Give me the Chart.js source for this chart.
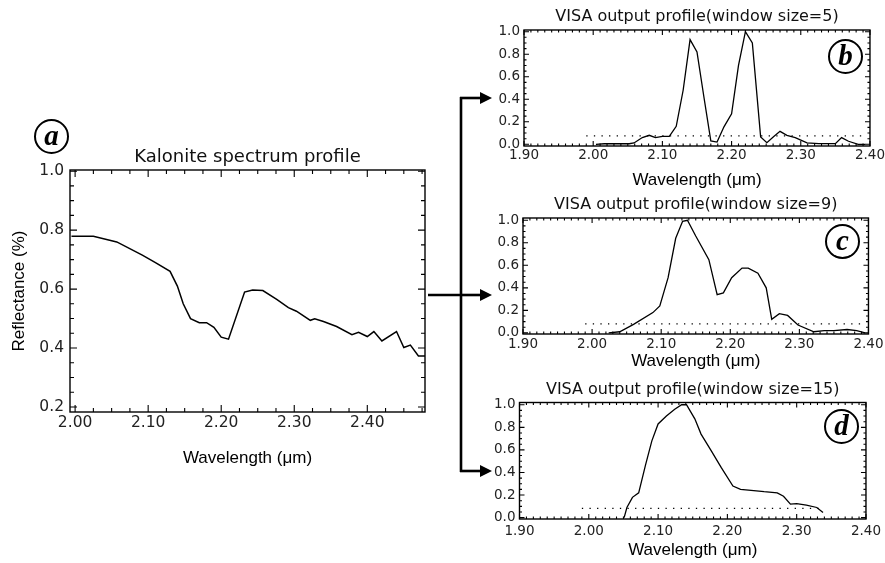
<!DOCTYPE html>
<html>
<head>
<meta charset="utf-8">
<script src="https://cdn.jsdelivr.net/npm/chart.js@4.4.0/dist/chart.umd.min.js"></script>
<style>
  body { margin: 0; background: #fff; width: 885px; height: 563px; position: relative; overflow: hidden; }
  canvas { position: absolute; }
  .tag { position: absolute; width: 31px; height: 31px; border: 2px solid #000; border-radius: 50%;
         font: italic bold 29px "Liberation Serif", serif; text-align: center; line-height: 29px; background: #fff; }
  svg { position: absolute; left: 0; top: 0; }
</style>
</head>
<body>
<canvas id="chartA"></canvas>
<canvas id="chartB"></canvas>
<canvas id="chartC"></canvas>
<canvas id="chartD"></canvas>

<div class="tag" style="left:34px;top:119px">a</div>
<div class="tag" style="left:828px;top:39px">b</div>
<div class="tag" style="left:825px;top:224px">c</div>
<div class="tag" style="left:824px;top:409px">d</div>

<svg width="885" height="563">
  <g stroke="#000" stroke-width="2.6" fill="none">
    <line x1="428" y1="295" x2="461" y2="295"/>
    <line x1="461" y1="97" x2="461" y2="472"/>
    <line x1="460" y1="98" x2="481" y2="98"/>
    <line x1="461" y1="295" x2="481" y2="295"/>
    <line x1="460" y1="471" x2="481" y2="471"/>
  </g>
  <g fill="#000">
    <polygon points="480,92 492,98 480,104"/>
    <polygon points="480,289 492,295 480,301"/>
    <polygon points="480,465 492,471 480,477"/>
  </g>
</svg>

<script>
// (a) Kalonite spectrum profile
const wavelengthA = [1.995, 2.025, 2.057, 2.092, 2.110, 2.130, 2.140, 2.148, 2.158, 2.170, 2.180, 2.190, 2.200, 2.210,
  2.232, 2.243, 2.257, 2.276, 2.292, 2.303, 2.322, 2.328, 2.340, 2.358, 2.379, 2.388, 2.400, 2.409, 2.420, 2.440,
  2.450, 2.459, 2.470, 2.479];
const reflectanceA = [0.779, 0.779, 0.760, 0.715, 0.690, 0.660, 0.610, 0.550, 0.500, 0.486, 0.486, 0.470, 0.437, 0.430,
  0.590, 0.597, 0.595, 0.565, 0.537, 0.525, 0.494, 0.499, 0.490, 0.473, 0.445, 0.453, 0.439, 0.456, 0.424, 0.456,
  0.402, 0.410, 0.373, 0.373];

// (b) window size = 5
const wavelengthB = [2.004, 2.016, 2.052, 2.059, 2.071, 2.081, 2.090, 2.100, 2.110, 2.120, 2.130, 2.140, 2.150, 2.160,
  2.170, 2.179, 2.189, 2.200, 2.210, 2.220, 2.230, 2.242, 2.251, 2.261, 2.270, 2.280, 2.292, 2.309, 2.326, 2.350,
  2.359, 2.369, 2.383, 2.393];
const visaB = [0.0, 0.005, 0.005, 0.012, 0.06, 0.08, 0.06, 0.07, 0.07, 0.16, 0.48, 0.93, 0.82, 0.42,
  0.03, 0.02, 0.155, 0.27, 0.70, 1.0, 0.90, 0.065, 0.015, 0.07, 0.115, 0.08, 0.06, 0.012, 0.006, 0.006,
  0.06, 0.027, 0.0, 0.0];

// (c) window size = 9
const wavelengthC = [2.024, 2.040, 2.060, 2.088, 2.098, 2.110, 2.121, 2.131, 2.138, 2.150, 2.169, 2.181, 2.190, 2.202,
  2.217, 2.226, 2.240, 2.252, 2.260, 2.271, 2.283, 2.298, 2.321, 2.336, 2.350, 2.369, 2.383, 2.395];
const visaC = [0.0, 0.01, 0.075, 0.18, 0.24, 0.49, 0.84, 0.99, 1.0, 0.86, 0.65, 0.34, 0.355, 0.49,
  0.575, 0.575, 0.53, 0.40, 0.12, 0.17, 0.155, 0.07, 0.01, 0.02, 0.02, 0.03, 0.02, 0.0];

// (d) window size = 15
const wavelengthD = [2.051, 2.055, 2.063, 2.072, 2.082, 2.091, 2.100, 2.112, 2.124, 2.134, 2.141, 2.153, 2.162, 2.177,
  2.191, 2.208, 2.219, 2.238, 2.253, 2.272, 2.281, 2.291, 2.300, 2.314, 2.329, 2.338];
const visaD = [0.0, 0.09, 0.18, 0.22, 0.47, 0.68, 0.83, 0.90, 0.96, 1.0, 1.0, 0.875, 0.74, 0.59,
  0.445, 0.28, 0.25, 0.24, 0.23, 0.22, 0.19, 0.12, 0.125, 0.11, 0.09, 0.045];

// dotted threshold lines [start, end, level]
const thresholdB = [1.990, 2.395, 0.075];
const thresholdC = [1.990, 2.395, 0.08];
const thresholdD = [1.990, 2.340, 0.083];

// tick labels
const xTicksA = [2.00, 2.10, 2.20, 2.30, 2.40];
const yTicksA = [0.2, 0.4, 0.6, 0.8, 1.0];
const xTicksVisa = [1.90, 2.00, 2.10, 2.20, 2.30, 2.40];
const yTicksVisa = [0.0, 0.2, 0.4, 0.6, 0.8, 1.0];

const toPoints = (xs, ys) => xs.map((x, i) => ({ x: x, y: ys[i] }));

// IDL style box with inward ticks, drawn from the scales
const idlFrame = {
  id: 'idlFrame',
  afterDatasetsDraw(chart, args, opts) {
    const { ctx, chartArea: a, scales: { x, y } } = chart;
    ctx.save();
    ctx.strokeStyle = '#000';
    ctx.lineWidth = 1.4;
    ctx.strokeRect(a.left, a.top, a.right - a.left, a.bottom - a.top);
    ctx.lineWidth = 1.1;
    ctx.beginPath();
    const steps = (min, max, step) => {
      const out = [];
      for (let v = Math.ceil(min / step - 1e-6) * step; v <= max + 1e-9; v += step) out.push(v);
      return out;
    };
    const xMarks = (vals, len) => vals.forEach(v => {
      const px = x.getPixelForValue(v);
      ctx.moveTo(px, a.bottom); ctx.lineTo(px, a.bottom - len);
      ctx.moveTo(px, a.top); ctx.lineTo(px, a.top + len);
    });
    const yMarks = (vals, len) => vals.forEach(v => {
      const py = y.getPixelForValue(v);
      ctx.moveTo(a.left, py); ctx.lineTo(a.left + len, py);
      ctx.moveTo(a.right, py); ctx.lineTo(a.right - len, py);
    });
    xMarks(steps(x.min, x.max, opts.xMinor), opts.minorLen);
    yMarks(steps(y.min, y.max, opts.yMinor), opts.minorLen);
    xMarks(opts.xTicks, opts.majorLen);
    yMarks(opts.yTicks, opts.majorLen);
    ctx.stroke();
    ctx.restore();
  }
};

function panel(id, cfg) {
  const canvas = document.getElementById(id);
  const box = cfg.box, area = cfg.area;
  canvas.style.left = box.left + 'px';
  canvas.style.top = box.top + 'px';
  canvas.width = box.width;
  canvas.height = box.height;

  const titleLh = cfg.titleSize * 1.2;
  const titleTop = cfg.titleY - box.top - titleLh / 2;
  const titleBlock = area.top - box.top;
  const xTitleLh = 17 * 1.2;

  const datasets = [{
    data: toPoints(cfg.xs, cfg.ys),
    borderColor: '#000',
    borderWidth: cfg.lineWidth,
    pointRadius: 0,
    tension: 0
  }];
  if (cfg.threshold) {
    datasets.push({
      data: [{ x: cfg.threshold[0], y: cfg.threshold[2] }, { x: cfg.threshold[1], y: cfg.threshold[2] }],
      borderColor: '#000',
      borderWidth: 1.3,
      borderDash: [1.3, 6.3],
      pointRadius: 0
    });
  }

  return new Chart(canvas, {
    type: 'line',
    data: { datasets: datasets },
    options: {
      responsive: false,
      animation: false,
      layout: { padding: { left: 0, top: 0, bottom: 0, right: box.left + box.width - area.right } },
      plugins: {
        legend: { display: false },
        tooltip: { enabled: false },
        title: {
          display: true,
          fullSize: false,
          text: cfg.title,
          color: '#111',
          font: { family: 'DejaVu Sans', size: cfg.titleSize, weight: 'normal' },
          padding: { top: titleTop, bottom: titleBlock - titleLh - titleTop }
        },
        idlFrame: {
          xTicks: cfg.xTicks, yTicks: cfg.yTicks,
          xMinor: cfg.xMinor, yMinor: cfg.yMinor,
          majorLen: cfg.majorLen, minorLen: cfg.minorLen
        }
      },
      scales: {
        x: {
          type: 'linear',
          min: cfg.xRange[0],
          max: cfg.xRange[1],
          afterBuildTicks: s => { s.ticks = cfg.xTicks.map(v => ({ value: v })); },
          afterFit: s => { s.height = box.top + box.height - area.bottom; },
          grid: { display: false, drawTicks: false },
          border: { display: false },
          ticks: {
            padding: cfg.xTickPad,
            color: '#222',
            font: { family: 'DejaVu Sans', size: cfg.tickSize },
            maxRotation: 0,
            callback: v => Number(v).toFixed(2)
          },
          title: {
            display: true,
            text: 'Wavelength (\u03bcm)',
            color: '#000',
            font: { family: 'Liberation Sans', size: 17 },
            padding: { top: 0, bottom: cfg.xTitleY - xTitleLh / 2 }
          }
        },
        y: {
          min: cfg.yRange[0],
          max: cfg.yRange[1],
          afterBuildTicks: s => { s.ticks = cfg.yTicks.map(v => ({ value: v })); },
          afterFit: s => { s.width = area.left - box.left; },
          grid: { display: false, drawTicks: false },
          border: { display: false },
          ticks: {
            padding: cfg.yTickPad,
            color: '#222',
            font: { family: 'DejaVu Sans', size: cfg.tickSize },
            callback: v => Number(v).toFixed(1)
          },
          title: {
            display: !!cfg.yTitle,
            text: cfg.yTitle || '',
            color: '#000',
            font: { family: 'Liberation Sans', size: 17 },
            padding: { top: 9, bottom: 0 }
          }
        }
      }
    },
    plugins: [idlFrame]
  });
}

document.addEventListener('DOMContentLoaded', function() {
  panel('chartA', {
    box: { left: 0, top: 140, width: 440, height: 340 },
    area: { left: 70, top: 170, right: 425, bottom: 412 },
    title: 'Kalonite spectrum profile', titleSize: 18, titleY: 157,
    xs: wavelengthA, ys: reflectanceA, lineWidth: 1.5,
    xRange: [1.993, 2.479], yRange: [0.183, 1.004],
    xTicks: xTicksA, yTicks: yTicksA, xMinor: 0.025, yMinor: 0.05,
    majorLen: 7, minorLen: 4, tickSize: 15.5, xTickPad: 1.5, yTickPad: 6,
    xTitleY: 22, yTitle: 'Reflectance (%)'
  });

  panel('chartB', {
    box: { left: 450, top: 0, width: 436, height: 192 },
    area: { left: 524, top: 30, right: 872, bottom: 146 },
    title: 'VISA output profile(window size=5)', titleSize: 16, titleY: 17,
    xs: wavelengthB, ys: visaB, lineWidth: 1.3, threshold: thresholdB,
    xRange: [1.90, 2.40], yRange: [-0.015, 1.015],
    xTicks: xTicksVisa, yTicks: yTicksVisa, xMinor: 0.01, yMinor: 0.05,
    majorLen: 5, minorLen: 2.5, tickSize: 13.5, xTickPad: 1, yTickPad: 4,
    xTitleY: 12
  });

  panel('chartC', {
    box: { left: 450, top: 192, width: 436, height: 180 },
    area: { left: 523, top: 218, right: 872, bottom: 334 },
    title: 'VISA output profile(window size=9)', titleSize: 16, titleY: 205,
    xs: wavelengthC, ys: visaC, lineWidth: 1.3, threshold: thresholdC,
    xRange: [1.90, 2.40], yRange: [-0.01, 1.02],
    xTicks: xTicksVisa, yTicks: yTicksVisa, xMinor: 0.01, yMinor: 0.05,
    majorLen: 5, minorLen: 2.5, tickSize: 13.5, xTickPad: 2.5, yTickPad: 4,
    xTitleY: 10.5
  });

  panel('chartD', {
    box: { left: 450, top: 372, width: 435, height: 191 },
    area: { left: 519.5, top: 402.5, right: 870, bottom: 519 },
    title: 'VISA output profile(window size=15)', titleSize: 16, titleY: 390,
    xs: wavelengthD, ys: visaD, lineWidth: 1.3, threshold: thresholdD,
    xRange: [1.90, 2.40], yRange: [-0.012, 1.02],
    xTicks: xTicksVisa, yTicks: yTicksVisa, xMinor: 0.01, yMinor: 0.05,
    majorLen: 5, minorLen: 2.5, tickSize: 13.5, xTickPad: 4, yTickPad: 4,
    xTitleY: 13
  });
});
</script>
</body>
</html>
